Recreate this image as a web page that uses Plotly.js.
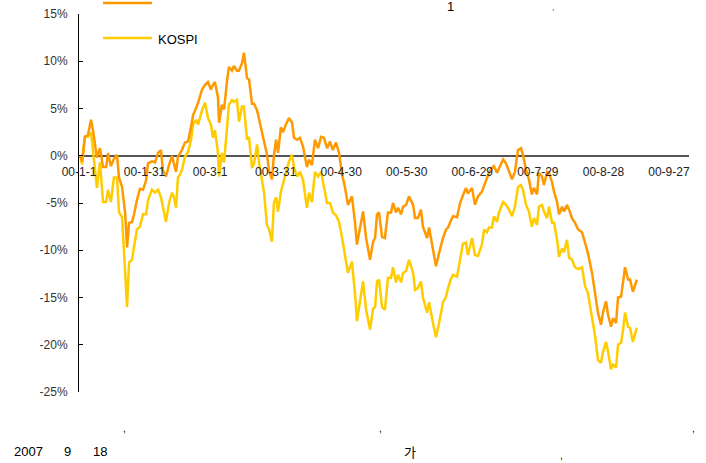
<!DOCTYPE html>
<html>
<head>
<meta charset="utf-8">
<script src="https://cdn.plot.ly/plotly-3.0.1.min.js"></script>
<style>html,body{margin:0;padding:0;background:#fff;}#chart{width:706px;height:463px;}</style>
</head>
<body>
<div id="chart"></div>
<script>
// days since 2000-01-01
const days = [0.5,1.4,2.7,4.1,5.5,6.4,8.2,9.6,11.0,12.4,13.3,14.6,16.0,17.4,18.3,19.7,21.1,22.0,22.9,24.3,25.2,26.5,27.9,29.3,30.7,31.6,33.4,34.8,36.2,37.5,38.4,39.8,41.2,42.6,43.5,44.4,45.3,46.2,47.1,48.5,49.9,51.3,52.2,53.5,54.5,56.3,57.7,59.0,60.4,61.3,62.2,63.6,64.1,65.4,66.4,67.7,68.6,70.0,70.9,72.3,73.2,74.6,75.5,76.9,77.8,79.2,80.1,81.5,82.4,83.8,84.7,86.0,87.0,88.3,89.2,90.2,91.1,92.4,93.4,94.7,96.1,97.5,98.4,99.8,101.1,102.5,104.3,105.3,106.6,108.0,109.4,110.8,112.1,113.5,114.9,116.2,117.6,119.0,120.4,121.7,123.1,124.9,126.3,127.2,128.6,130.0,131.4,133.2,134.6,135.5,136.4,137.3,138.7,140.0,141.4,142.8,143.7,145.1,146.0,147.4,148.3,149.7,151.0,152.9,153.8,155.1,156.5,157.4,159.3,160.2,162.0,163.4,164.8,166.6,168.0,168.9,170.3,171.2,173.0,174.4,175.7,177.1,178.0,179.9,181.2,182.6,184.4,185.4,186.7,187.6,189.0,189.9,191.3,192.2,194.1,195.4,196.8,198.2,199.5,200.9,202.3,203.2,204.6,205.9,207.3,208.2,209.6,210.5,211.9,212.8,214.2,215.1,216.5,217.4,218.8,219.7,221.1,222.0,223.3,224.3,225.6,227.0,228.4,230.2,231.6,232.9,234.8,236.2,237.5,238.9,239.8,241.2,242.1,243.5,244.4,245.8,246.7,248.1,249.0,249.9,251.3,252.2,253.5,255.3];

// first series (orange), % return
const series1 = [0,-0.6,2.0,2.2,3.8,2.7,-0.2,0.8,-1.2,-1.2,0.3,-1.1,-0.3,0.1,-2.3,-3.3,-6.0,-9.7,-7.1,-7.0,-6.2,-4.7,-3.5,-3.6,-2.6,-0.8,-0.6,-0.7,0.3,0.6,-1.5,-2.2,-1.0,0.0,-0.9,-1.7,-0.1,0.3,0.6,1.4,1.5,3.1,4.3,5.0,5.6,7.0,7.5,7.8,7.0,7.5,7.8,6.2,3.5,5.4,4.9,7.8,9.4,9.0,9.5,9.0,9.0,9.8,10.9,8.2,8.1,5.5,5.5,4.8,3.8,2.2,1.5,0.2,-1.6,-2.5,0.0,1.7,0.3,3.0,2.5,3.3,4.0,3.5,1.9,1.7,1.9,1.0,-1.2,-0.4,-1.0,1.7,0.8,2.0,1.9,0.8,1.5,0.6,1.4,0.3,-2.0,-3.3,-5.2,-4.3,-7.0,-9.4,-7.5,-5.9,-8.7,-11.0,-9.1,-8.7,-6.2,-6.0,-8.6,-8.7,-6.0,-6.0,-5.0,-6.0,-5.5,-6.2,-5.4,-5.2,-4.3,-5.2,-6.6,-6.6,-5.7,-7.5,-8.7,-7.6,-9.9,-11.7,-10.3,-8.7,-7.8,-7.6,-6.8,-6.4,-6.5,-5.0,-4.2,-3.4,-4.0,-3.4,-5.2,-4.3,-3.8,-3.1,-2.2,-1.8,-1.3,-1.1,-1.8,-1.3,-0.4,-0.8,-1.7,-2.5,-1.7,0.6,0.8,0.1,-1.5,-2.5,-4.1,-3.4,-4.1,-1.8,-2.2,-3.1,-1.7,-1.8,-2.8,-3.8,-4.9,-6.2,-5.4,-5.9,-5.2,-5.7,-6.6,-7.1,-7.8,-8.1,-9.2,-10.3,-12.4,-14.5,-16.6,-17.9,-16.6,-15.4,-16.8,-18.1,-17.2,-17.7,-15.0,-14.9,-13.4,-11.8,-13.1,-13.1,-14.4,-13.1];

// KOSPI (yellow), % return
const kospi = [0,-0.9,2.0,2.0,2.5,0.6,-3.4,-0.7,-4.9,-4.9,-3.6,-4.9,-2.3,-2.3,-6.0,-6.5,-12.0,-16.0,-11.3,-11.0,-9.6,-7.8,-7.5,-6.2,-6.2,-4.7,-3.6,-3.9,-3.6,-4.4,-5.4,-7.0,-5.0,-3.9,-4.4,-5.5,-2.3,-2.0,-1.5,-0.1,0.4,1.7,3.3,3.8,3.3,4.8,5.6,4.0,3.3,1.9,2.7,0.3,-2.2,0.3,-0.7,3.1,5.4,5.9,5.7,5.9,3.6,5.2,5.2,1.7,2.0,-1.3,-0.8,1.2,-0.7,-2.7,-3.9,-7.3,-7.8,-9.1,-5.0,-4.4,-5.9,-3.8,-2.9,-1.8,-0.6,0.1,-1.2,-2.2,-1.7,-2.5,-5.5,-3.9,-4.9,-1.7,-2.2,-1.7,-3.3,-5.0,-5.0,-6.0,-6.3,-7.0,-8.7,-10.3,-12.4,-11.2,-14.5,-17.5,-15.5,-13.3,-16.3,-18.4,-16.2,-16.0,-13.3,-13.1,-16.0,-16.3,-12.9,-12.9,-11.8,-13.4,-12.6,-13.4,-12.4,-12.2,-11.0,-12.4,-14.2,-14.0,-13.3,-15.0,-16.6,-15.5,-17.7,-19.2,-17.7,-15.5,-14.9,-14.0,-13.0,-12.6,-12.8,-10.8,-9.3,-9.2,-10.5,-8.7,-10.5,-10.6,-9.4,-7.8,-8.1,-7.6,-7.6,-6.4,-7.0,-6.0,-4.9,-5.2,-5.7,-6.4,-5.4,-3.3,-3.1,-3.6,-5.2,-5.9,-7.5,-6.6,-7.3,-5.4,-5.2,-5.9,-6.6,-5.4,-7.1,-7.1,-8.9,-10.7,-9.8,-10.2,-8.9,-10.8,-11.0,-11.8,-12.0,-11.8,-13.8,-14.5,-17.0,-19.1,-21.6,-21.9,-20.8,-19.7,-20.7,-22.6,-22.1,-22.4,-20.0,-19.8,-18.4,-16.6,-18.1,-18.2,-19.7,-18.2];

const tickDays = [0,30,60,90,120,150,180,210,240,270];
const tickLabels = ['00-1-1','00-1-31','00-3-1','00-3-31','00-4-30','00-5-30','00-6-29','00-7-29','00-8-28','00-9-27'];
const yTicks = [-25,-20,-15,-10,-5,0,5,10,15];
const yTickLabels = ['-25%','-20%','-15%','-10%','-5%','0%','5%','10%','15%'];
const legendNames = ['', 'KOSPI'];
const colors = ['#FF9900', '#FFCC00'];

// layout geometry (pixels in the 706x463 page)
const W = 706, H = 463, L = 79, R = 17, T = 14, B = 71;
const pw = W - L - R, ph = H - T - B;
const px = x => (x - L) / pw;
const py = y => (H - B - y) / ph;
const FONT = 'Liberation Sans, Arial, sans-serif';

const traces = [
  {x: days, y: kospi, type: 'scatter', mode: 'lines', name: legendNames[1],
   line: {color: colors[1], width: 2.5}, showlegend: false, hoverinfo: 'skip'},
  {x: days, y: series1, type: 'scatter', mode: 'lines', name: legendNames[0],
   line: {color: colors[0], width: 2.5}, showlegend: false, hoverinfo: 'skip'}
];

const txt = (text, x, y, opts) => Object.assign({
  text, x: px(x), y: py(y), xref: 'paper', yref: 'paper', showarrow: false,
  xanchor: 'left', yanchor: 'middle', font: {family: FONT, size: 13, color: '#000'}
}, opts || {});

const layout = {
  width: W, height: H,
  margin: {l: L, r: R, t: T, b: B, pad: 0},
  paper_bgcolor: '#fff', plot_bgcolor: '#fff',
  showlegend: false,
  xaxis: {
    range: [0, pw / 2.185], anchor: 'free', position: (H - B - 156) / ph,
    tickvals: tickDays, ticktext: tickLabels, showgrid: false, zeroline: false,
    showline: false, ticks: 'outside', ticklen: 5, tickcolor: 'rgba(0,0,0,0)',
    tickfont: {family: FONT, size: 12, color: '#222'}
  },
  yaxis: {
    range: [-25, 15], tickvals: yTicks, ticktext: yTickLabels, showgrid: false,
    zeroline: true, zerolinecolor: '#555', zerolinewidth: 1.5,
    showline: true, linecolor: '#000', linewidth: 1,
    ticks: 'inside', ticklen: 4, tickcolor: '#000', ticklabelstandoff: 8,
    tickfont: {family: FONT, size: 12, color: '#333'}
  },
  shapes: [
    {type: 'line', xref: 'paper', yref: 'paper', x0: px(103), x1: px(152), y0: py(3), y1: py(3),
     line: {color: colors[0], width: 2.5}},
    {type: 'line', xref: 'paper', yref: 'paper', x0: px(103), x1: px(152), y0: py(38), y1: py(38),
     line: {color: colors[1], width: 2.5}}
  ],
  annotations: [
    txt(legendNames[1], 156, 39, {font: {family: FONT, size: 13, color: '#000'}}),
    txt('1', 450, 6, {xanchor: 'center', font: {family: FONT, size: 13, color: '#000'}}),
    txt(',', 553, 7, {xanchor: 'center', font: {family: FONT, size: 9, color: '#666'}}),
    txt(',', 124, 428, {xanchor: 'center', font: {family: FONT, size: 10, color: '#000'}}),
    txt(',', 380, 428, {xanchor: 'center', font: {family: FONT, size: 10, color: '#000'}}),
    txt(',', 693, 428, {xanchor: 'center', font: {family: FONT, size: 10, color: '#000'}}),
    txt('2007', 12, 452),
    txt('9', 62, 452),
    txt('18', 91, 452),
    txt('가', 402, 452, {font: {family: 'Noto Sans CJK KR, sans-serif', size: 13, color: '#000'}}),
    txt(',', 561, 455, {xanchor: 'center', font: {family: FONT, size: 10, color: '#000'}})
  ]
};

Plotly.newPlot('chart', traces, layout, {staticPlot: true, displayModeBar: false});
</script>
</body>
</html>
